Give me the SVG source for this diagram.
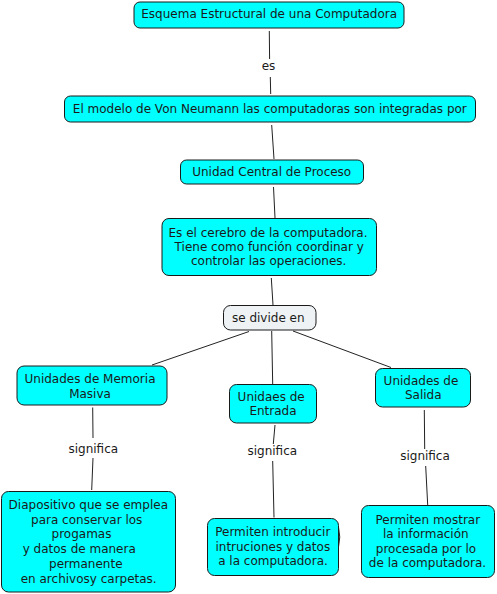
<svg xmlns="http://www.w3.org/2000/svg" width="497" height="594" viewBox="0 0 497 594">
<style>
.n{fill:#00ffff;stroke:#1a1a1a;stroke-width:1}
.p{fill:#eef2f4;stroke:#1a1a1a;stroke-width:1}
text{font-family:"DejaVu Sans",Verdana,sans-serif;font-size:12px;fill:#1a1a1a;text-anchor:middle}
.c line{stroke:#222;stroke-width:1}
</style>
<rect width="497" height="594" fill="#fff"/>
<g class="c" id="connectors">
<line x1="269.3" y1="31" x2="269.6" y2="59"/>
<line x1="270.3" y1="77" x2="270.7" y2="94"/>
<line x1="271.7" y1="125" x2="274" y2="159"/>
<line x1="273.5" y1="187" x2="275" y2="218"/>
<line x1="271.3" y1="278" x2="273" y2="305"/>
<line x1="249" y1="331.5" x2="152" y2="365"/>
<line x1="271.7" y1="331" x2="272.7" y2="384"/>
<line x1="293" y1="331" x2="391" y2="367.5"/>
<line x1="92.7" y1="407.5" x2="93" y2="438"/>
<line x1="93" y1="458" x2="91.7" y2="490"/>
<line x1="275" y1="425" x2="273.3" y2="444"/>
<line x1="272.7" y1="461" x2="274" y2="517.5"/>
<line x1="424.3" y1="410" x2="424.7" y2="449"/>
<line x1="425.7" y1="466" x2="427.7" y2="505"/>
<text x="268.5" y="70">es</text>
<text x="93.3" y="453">significa</text>
<text x="272.3" y="455">significa</text>
<text x="425" y="460">significa</text>
</g>
<g id="n1"><rect class="n" x="134" y="2" width="270" height="26" rx="6"/><text x="269.2" y="18.3">Esquema Estructural de una Computadora</text></g>
<g id="n2"><rect class="n" x="64.5" y="96" width="411" height="26" rx="6"/><text x="269.8" y="112.5">El modelo de Von Neumann las computadoras son integradas por</text></g>
<g id="n3"><rect class="n" x="180.5" y="160" width="183" height="24" rx="6"/><text x="271.7" y="176.3">Unidad Central de Proceso</text></g>
<g id="n4"><rect class="n" x="162" y="218.5" width="214.5" height="57" rx="7"/>
<text x="268" y="236.5">Es el cerebro de la computadora.</text>
<text x="269.2" y="251">Tiene como función coordinar y</text>
<text x="268.7" y="265.2">controlar las operaciones.</text></g>
<g id="n5"><rect class="p" x="223.5" y="305.5" width="92.5" height="24.5" rx="7"/><text x="268.3" y="322">se divide en</text></g>
<g id="n6"><rect class="n" x="17" y="366" width="150" height="39" rx="7"/>
<text x="90" y="383">Unidades de Memoria</text><text x="90" y="397.5">Masiva</text></g>
<g id="n7"><rect class="n" x="1.5" y="491.5" width="174" height="100.5" rx="7"/>
<text x="88.3" y="509">Diapositivo que se emplea</text>
<text x="86.7" y="523.5">para conservar los</text>
<text x="81.5" y="538">progamas</text>
<text x="79.2" y="552.5">y datos de manera</text>
<text x="85.8" y="567.5">permanente</text>
<text x="88.7" y="582.5">en archivosy carpetas.</text></g>
<g id="n8"><rect class="n" x="229.5" y="384.5" width="87" height="38.5" rx="7"/>
<text x="271.2" y="400.7">Unidaes de</text><text x="273" y="415.3">Entrada</text></g>
<g id="n9"><rect class="n" x="375.5" y="368.5" width="95" height="38.5" rx="7"/>
<text x="421" y="385">Unidades de</text><text x="423.3" y="399">Salida</text></g>
<g id="n10"><rect class="n" x="207.5" y="518.5" width="131" height="57" rx="7"/>
<path d="M338.5 527 Q341 537 338.5 547" fill="none" stroke="#1a1a1a" stroke-width="1"/>
<text x="272.8" y="536.3">Permiten introducir</text>
<text x="272.8" y="550.7">intruciones y datos</text>
<text x="273" y="565">a la computadora.</text></g>
<g id="n11"><rect class="n" x="361.5" y="505.5" width="133" height="72" rx="7"/>
<text x="427.8" y="524">Permiten mostrar</text>
<text x="425.8" y="538.3">la información</text>
<text x="426" y="553">procesada por lo</text>
<text x="427.5" y="567.3">de la computadora.</text></g>
</svg>
